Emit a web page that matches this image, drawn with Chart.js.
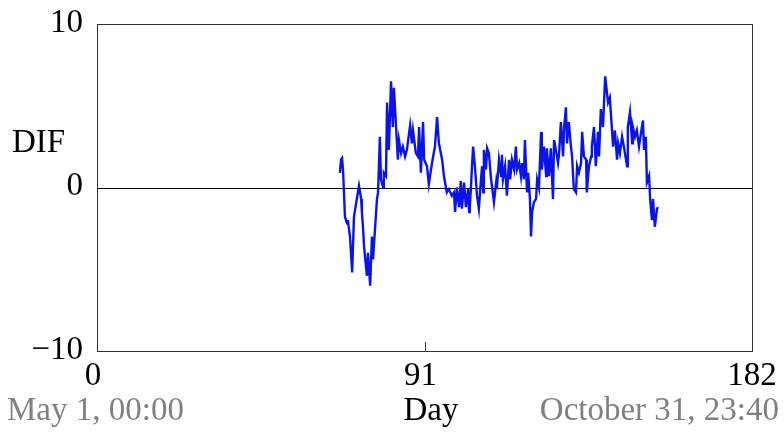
<!DOCTYPE html>
<html>
<head>
<meta charset="utf-8">
<script src="https://cdn.jsdelivr.net/npm/chart.js@4/dist/chart.umd.min.js"></script>
<style>
  body { margin: 0; background: #fff; }
  #chart { display: block; }
</style>
</head>
<body>
<canvas id="chart" width="784" height="437"></canvas>
<script>
// day of the period (0 = May 1, 00:00) and DIF
const days = [
  67.5, 67.8, 68.1, 68.4, 68.9, 69.5, 69.7, 70.3, 70.9, 71.4, 72.2, 72.8, 73.4, 73.6, 73.9, 74.2,
  75.0, 75.3, 75.9, 76.4, 76.7, 77.2, 77.8, 78.1, 78.6, 78.9, 79.5, 79.7, 80.3, 80.6, 81.1, 81.7,
  82.2, 82.5, 83.1, 83.6, 83.9, 84.5, 85.0, 85.6, 86.1, 87.0, 87.5, 87.8, 88.6, 89.2, 89.5, 90.0,
  90.6, 90.9, 91.7, 92.2, 92.8, 93.4, 93.9, 94.5, 95.0, 95.9, 96.4, 97.2, 97.8, 98.6, 99.2, 99.5,
  100.0, 100.6, 101.1, 101.4, 102.0, 102.5, 103.1, 103.4, 103.6, 104.5, 105.0, 105.6, 106.1, 106.7,
  107.0, 107.3, 107.5, 108.1, 108.4, 108.9, 109.5, 109.8, 110.3, 110.9, 111.1, 111.7, 112.3, 112.5,
  112.8, 113.4, 113.9, 114.5, 114.8, 115.3, 115.9, 116.4, 116.7, 117.3, 117.8, 118.1, 118.6, 118.9,
  119.5, 119.8, 120.3, 120.6, 120.9, 121.4, 122.0, 122.3, 122.8, 123.4, 123.6, 124.2, 124.8, 125.0,
  125.6, 126.1, 126.7, 127.0, 127.5, 128.1, 128.4, 128.9, 129.5, 129.8, 130.3, 130.6, 131.1, 131.7,
  132.0, 132.5, 133.1, 133.4, 133.9, 134.5, 134.8, 135.3, 135.9, 136.1, 136.7, 137.3, 137.5, 138.1,
  138.6, 139.2, 139.5, 140.0, 140.6, 141.2, 141.7, 142.0, 142.5, 143.1, 143.4, 143.9, 144.5, 144.8,
  145.3, 145.9, 146.4, 147.3, 147.5, 148.1, 148.7, 148.9, 149.5, 150.0, 150.6, 151.2, 151.7, 152.0,
  152.5, 152.8, 153.4, 153.7, 154.2, 154.5, 155.0, 155.6, 155.9
];
const dif = [
  0.9, 1.7, 1.8, 0.9, -1.8, -2.2, -2.0, -3.0, -5.2, -1.8, -0.7, 0.1, -0.7, -1.5, -2.4, -3.6,
  -5.4, -4.0, -6.0, -3.0, -4.4, -2.7, -0.7, -0.3, 3.1, 0.5, 0.0, 0.9, 0.7, 5.2, 2.3, 6.5,
  3.7, 6.1, 3.7, 1.7, 2.9, 2.1, 2.5, 1.9, 2.3, 3.8, 2.7, 3.5, 2.1, 1.9, 3.7, 0.9,
  4.0, 1.7, 1.3, 0.2, 1.1, 1.9, 2.5, 4.3, 2.7, 1.7, 0.7, -0.3, -0.1, -0.5, -0.3, -1.5,
  0.0, -1.2, 0.4, -1.3, 0.3, -1.2, -0.1, -1.5, -1.2, 2.5, 1.3, -0.5, -1.3, 0.5,
  1.3, -0.3, 2.3, 1.1, 2.4, 2.1, 0.5, 0.0, -0.9, 0.3, -0.1, 1.7, 0.7, 2.0,
  0.5, 1.3, -0.5, 1.7, 0.5, 1.7, 1.1, 2.5, 1.1, 1.5, 0.7, 1.5, 0.5, 2.9,
  -0.3, 0.9, -0.7, -3.0, -1.5, -0.9, -0.7, 0.5, 0.0, 3.4, 1.1, 2.5, 0.7, 2.4,
  0.7, 2.4, -0.7, 2.9, 2.3, 1.5, 2.1, 4.0, 1.9, 3.7, 4.9, 2.7, 4.0, 2.5,
  1.9, -0.1, -0.3, 1.3, 0.9, 1.5, 3.4, 1.9, 1.7, -0.3, 1.3, 1.9, 2.5, 3.7,
  1.3, 3.4, 1.9, 4.8, 3.7, 6.8, 5.8, 5.2, 5.5, 3.5, 2.5, 3.5, 1.7, 2.7,
  2.1, 3.1, 2.5, 1.3, 3.7, 4.6, 2.7, 3.7, 3.1, 3.5, 2.5, 3.4, 4.1, 2.3,
  3.1, 0.3, 0.7, -0.7, -2.0, -0.7, -2.4, -1.3, -1.2
];
const xTicks = [0, 91, 182];
const yTicks = [10, 0, -10];
const yTickLabels = ["10", "0", "\u221210"];
const startLabel = "May 1, 00:00";
const endLabel = "October 31, 23:40";

const serif = '"Liberation Serif", "DejaVu Serif", serif';

const framePlugin = {
  id: "frame",
  beforeDatasetsDraw(chart) {
    const { ctx, chartArea: a, scales } = chart;
    const y0 = scales.y.getPixelForValue(0);
    ctx.save();
    ctx.strokeStyle = "#000";
    ctx.lineWidth = 1;
    ctx.beginPath();
    ctx.moveTo(a.left, Math.round(y0) + 0.5);
    ctx.lineTo(a.right, Math.round(y0) + 0.5);
    ctx.stroke();
    ctx.restore();
  },
  afterDraw(chart) {
    const { ctx, chartArea: a, scales } = chart;
    ctx.save();
    ctx.strokeStyle = "#333";
    ctx.lineWidth = 1;
    ctx.strokeRect(Math.round(a.left) + 0.5, Math.round(a.top) + 0.5,
      Math.round(a.right - a.left), Math.round(a.bottom - a.top));

    // inner tick marks on the day axis
    ctx.beginPath();
    xTicks.forEach((t) => {
      const px = Math.round(scales.x.getPixelForValue(t)) + 0.5;
      ctx.moveTo(px, a.bottom);
      ctx.lineTo(px, a.bottom - 9);
    });
    ctx.stroke();

    ctx.font = "33px " + serif;
    ctx.fillStyle = "#000";
    ctx.textBaseline = "middle";
    ctx.textAlign = "right";
    yTicks.forEach((t, i) => {
      ctx.fillText(yTickLabels[i], a.left - 14, scales.y.getPixelForValue(t) - 1);
    });

    ctx.textBaseline = "alphabetic";
    ctx.textAlign = "center";
    xTicks.forEach((t, i) => {
      const shift = i < xTicks.length - 1 ? -4 : 0;
      ctx.fillText(String(t), scales.x.getPixelForValue(t) + shift, 385);
    });

    ctx.textAlign = "left";
    ctx.fillText("DIF", 12, 152);
    ctx.textAlign = "center";
    ctx.fillText("Day", 431, 420);

    ctx.fillStyle = "#808080";
    ctx.textAlign = "left";
    ctx.fillText(startLabel, 7, 420);
    ctx.textAlign = "right";
    ctx.fillText(endLabel, 779, 420);
    ctx.restore();
  }
};

new Chart(document.getElementById("chart"), {
  type: "line",
  data: {
    datasets: [{
      data: days.map((d, i) => ({ x: d, y: dif[i] })),
      borderColor: "#0a14e6",
      borderWidth: 2.4,
      pointRadius: 0,
      tension: 0,
      fill: false
    }]
  },
  options: {
    responsive: false,
    animation: false,
    devicePixelRatio: 1,
    layout: { padding: { left: 97, top: 24, right: 32, bottom: 86 } },
    plugins: { legend: { display: false }, tooltip: { enabled: false } },
    scales: {
      x: { type: "linear", min: 0, max: 182, display: false },
      y: { type: "linear", min: -10, max: 10, display: false }
    }
  },
  plugins: [framePlugin]
});
</script>
</body>
</html>
